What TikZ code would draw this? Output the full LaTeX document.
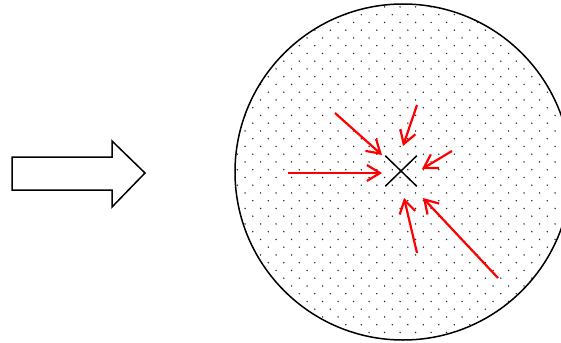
\documentclass[tikz,border=0pt]{standalone}
\usetikzlibrary{arrows.meta,shapes.misc}
\begin{document}
\begin{tikzpicture}[x=1pt,y=-1pt,
  outl/.style={draw=black,line width=1.5pt,line join=miter},
  redarrow/.style={draw=red,line width=2.2pt,-{Straight Barb[length=13pt,width=16pt,line width=2.2pt]}},
  dotfill/.style={fill=black!85}]
\useasboundingbox (0,0) rectangle (561,342);
\begin{scope}
\clip (0,0) rectangle (561,342);
% dotted disk
\begin{scope}
\clip (403,172) circle (168);
\foreach \j in {-30,...,30}{
  \pgfmathsetmacro{\yy}{231.7+7.75*\j}
  \pgfmathsetmacro{\off}{mod(abs(\j),2)*7.75}
  \foreach \i in {-3,...,20}{
    \fill[dotfill] ({268.3+\off+15.5*\i},\yy) circle (0.8);
  }
}
\end{scope}
\node[circle,outl,minimum size=336pt,inner sep=0] (disk) at (403,172) {};
\end{scope}
% big hollow arrow
\draw[outl] (12,157) -- (112,157) -- (112,141) -- (145,173) -- (112,207) -- (112,190) -- (12,190) -- cycle;
% cross
\node[cross out,draw=black,line width=1.5pt,minimum width=30pt,minimum height=29pt,inner sep=0] (x) at (401,171) {};
% arrows
\coordinate (s1) at (335,113); \coordinate (e1) at (382,155);
\coordinate (s2) at (417,105); \coordinate (e2) at (403,146);
\coordinate (s3) at (452,151); \coordinate (e3) at (422,169);
\coordinate (s4) at (288,173); \coordinate (e4) at (382,173);
\coordinate (s5) at (417,253); \coordinate (e5) at (404,198);
\coordinate (s6) at (498,278); \coordinate (e6) at (423,198);
\foreach \k in {1,...,6}{\draw[redarrow] (s\k) -- (e\k);}
\end{tikzpicture}
\end{document}
